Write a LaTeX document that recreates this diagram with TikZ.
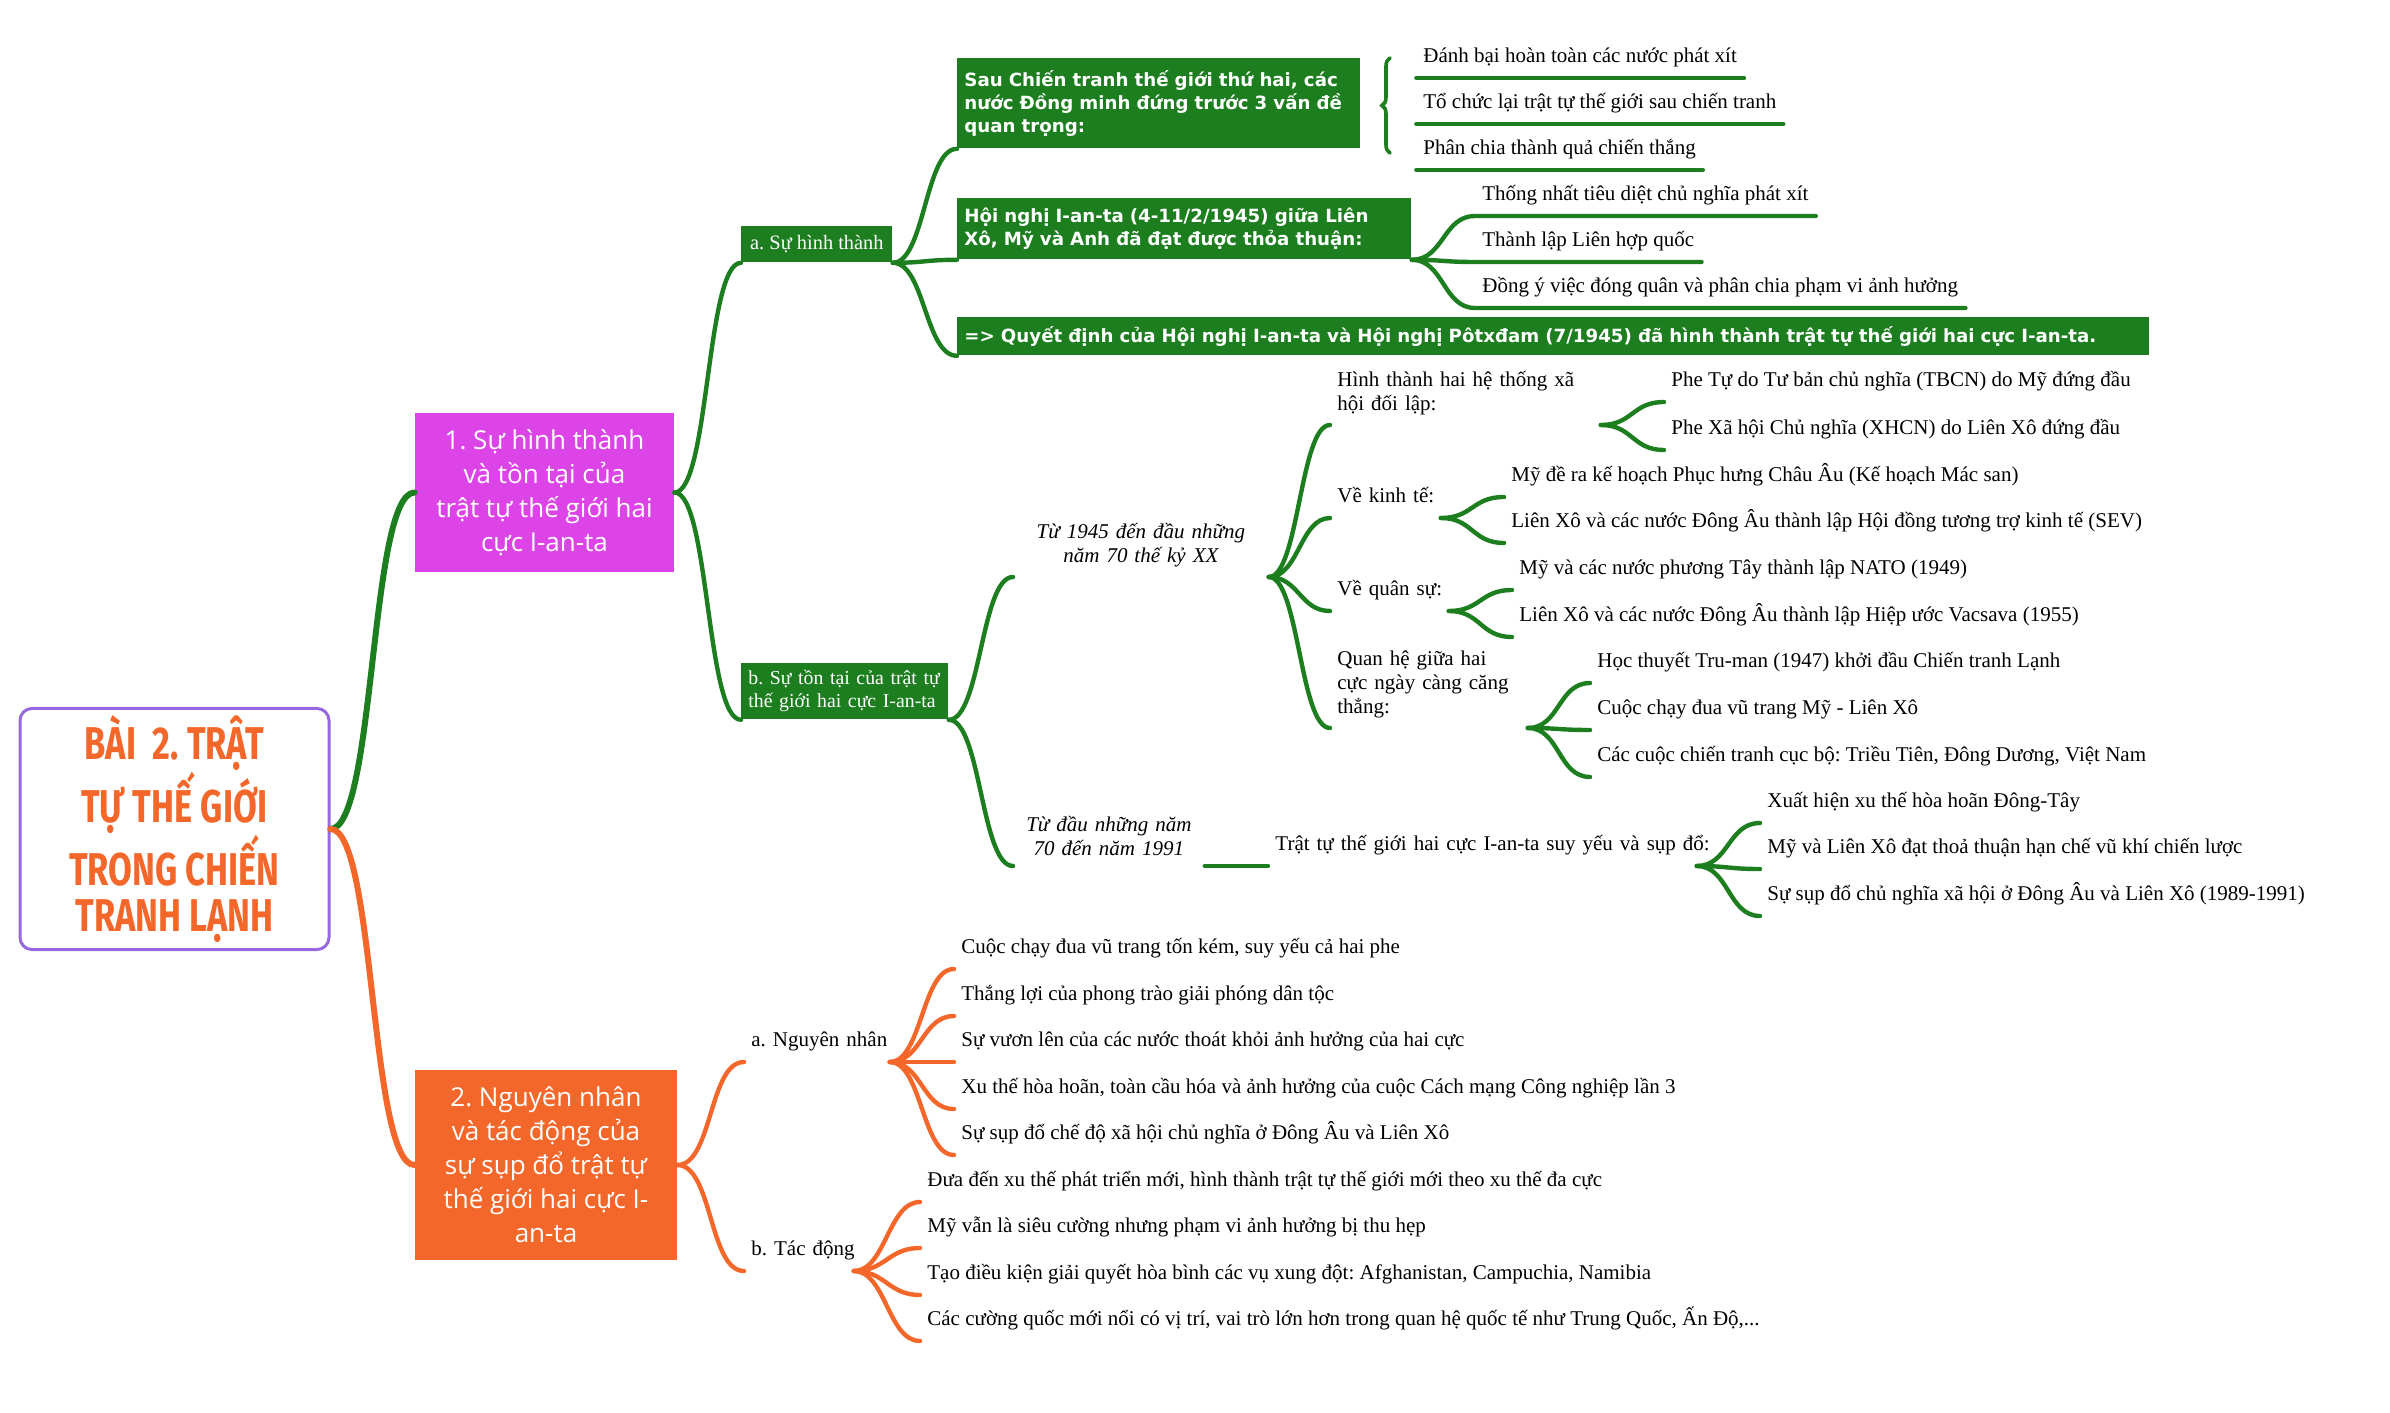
\documentclass[tikz,border=0pt]{standalone}
\usepackage{fontspec}
\setmainfont{Liberation Serif}
\newfontfamily\titlefont[FakeStretch=0.75]{Fira Sans}
\newfontfamily\capfont{Open Sans}
\newfontfamily\notefont{DejaVu Sans}
\usetikzlibrary{decorations.pathreplacing}
\definecolor{mmgreen}{HTML}{1C7E1E}
\definecolor{mmpink}{HTML}{DC44E8}
\definecolor{mmorange}{HTML}{F4672A}
\definecolor{mmpurple}{HTML}{9868E0}
\tikzset{
  arm/.style={to path={.. controls +(#1,0) and +(-#1,0) .. (\tikztotarget)}},
  arm/.default=32,
  trunk/.style={line width=3pt,line cap=round},
  twig/.style={line width=2.2pt,line cap=round},
  uline/.style={line width=1.8pt,line cap=round},
  rootbox/.style={draw=mmpurple,line width=1.5pt,rounded corners=6pt,fill=white,
    minimum width=154.5pt,minimum height=110pt,align=center,text=mmorange,
    font=\titlefont\bfseries\fontsize{23}{23}\selectfont},
  bigbox/.style={fill=#1,text=white,align=center,inner sep=2pt,
    font=\capfont\fontsize{13}{17}\selectfont},
  subbox/.style={fill=mmgreen,text=white,anchor=north west,inner xsep=3.5pt,
    inner ysep=1pt,font=\fontsize{10.2}{11.5}\selectfont},
  notebox/.style={fill=mmgreen,text=white,anchor=north west,align=left,
    inner xsep=3.5pt,inner ysep=1pt,font=\notefont\bfseries\fontsize{9.1}{11.5}\selectfont},
  topic/.style={anchor=south west,inner xsep=3.5pt,inner ysep=5.5pt,text depth=2pt,
    align=left,font=\fontsize{10.5}{12}\selectfont},
  blocktopic/.style={anchor=south west,inner xsep=3.5pt,inner ysep=5pt,
    align=left,font=\fontsize{10.5}{12}\selectfont},
  eratopic/.style={blocktopic,align=center,font=\itshape\fontsize{10.5}{12}\selectfont},
  leaf/.style={anchor=south west,inner xsep=3.5pt,inner ysep=5.5pt,text depth=2pt,
    font=\fontsize{10.5}{12}\selectfont}
}
\begin{document}
\frenchspacing
\begin{tikzpicture}[x=0.5pt,y=-0.5pt]
\useasboundingbox (0,0) rectangle (2390,1413);

% root and the two sections
\node[rootbox] (root) at (174.5,829) {BÀI\ \ 2. TRẬT\\TỰ THẾ GIỚI\\TRONG CHIẾN\\TRANH LẠNH};
\node[bigbox=mmpink,minimum width=129.5pt,minimum height=79.5pt] (sec1) at (544.5,492.5)
  {1. Sự hình thành\\và tồn tại của\\trật tự thế giới hai\\cực I-an-ta};
\node[bigbox=mmorange,minimum width=131pt,minimum height=95pt] (sec2) at (546,1165)
  {2. Nguyên nhân\\và tác động của\\sự sụp đổ trật tự\\thế giới hai cực I-\\an-ta};

\draw[trunk,mmgreen] (root.east) to[arm=45] (sec1.west);
\draw[trunk,mmorange] (root.east) to[arm=45] (sec2.west);

% a. su hinh thanh
\node[subbox,minimum width=75.5pt,minimum height=18pt,align=center] (secA) at (741,226) {a. Sự hình thành};
\node[notebox,text width=194.5pt,minimum height=45pt] (noteA) at (957,58)
  {\mbox{Sau Chiến tranh thế giới thứ hai, các}\\\mbox{nước Đồng minh đứng trước 3 vấn đề}\\quan trọng:};
\node[notebox,text width=220pt,minimum height=30.5pt] (noteB) at (957,198)
  {\mbox{Hội nghị I-an-ta (4-11/2/1945) giữa Liên}\\\mbox{Xô, Mỹ và Anh đã đạt được thỏa thuận:}};
\node[notebox,text width=589pt,minimum height=19pt] (noteC) at (957,317)
  {\mbox{=> Quyết định của Hội nghị I-an-ta và Hội nghị Pôtxđam (7/1945) đã hình thành trật tự thế giới hai cực I-an-ta.}};

\draw[twig,mmgreen] (sec1.east) to[arm=35] (secA.south west);
\draw[twig,mmgreen] (secA.south east) to[arm] (noteA.south west);
\draw[twig,mmgreen] (secA.south east) to[arm] (noteB.south west);
\draw[twig,mmgreen] (secA.south east) to[arm] (noteC.south west);

\node[leaf] (la1) at (1416,78) {Đánh bại hoàn toàn các nước phát xít};
\node[leaf] (la2) at (1416,124) {Tổ chức lại trật tự thế giới sau chiến tranh};
\node[leaf] (la3) at (1416,170) {Phân chia thành quả chiến thắng};
\draw[uline,mmgreen] (la1.south west) -- (la1.south east);
\draw[uline,mmgreen] (la2.south west) -- (la2.south east);
\draw[uline,mmgreen] (la3.south west) -- (la3.south east);
\draw[uline,mmgreen,decorate,decoration={brace,amplitude=4pt}] (1390,153) -- (1390,58);

\node[leaf] (lb1) at (1475,216) {Thống nhất tiêu diệt chủ nghĩa phát xít};
\node[leaf] (lb2) at (1475,262) {Thành lập Liên hợp quốc};
\node[leaf] (lb3) at (1475,308) {Đồng ý việc đóng quân và phân chia phạm vi ảnh hưởng};
\draw[twig,mmgreen] (noteB.south east) to[arm] (lb1.south west) -- (lb1.south east);
\draw[twig,mmgreen] (noteB.south east) to[arm] (lb2.south west) -- (lb2.south east);
\draw[twig,mmgreen] (noteB.south east) to[arm] (lb3.south west) -- (lb3.south east);

% b. su ton tai
\node[subbox,minimum width=103.5pt,minimum height=28pt,text width=96.5pt,align=left,
  font=\fontsize{9.9}{11.5}\selectfont] (secB) at (741,663)
  {\mbox{b. Sự tồn tại của trật tự}\\\mbox{thế giới hai cực I-an-ta}};
\draw[twig,mmgreen] (sec1.east) to[arm=35] (secB.south west);

\node[eratopic,text width=120.5pt] (era1) at (1013,577) {Từ 1945 đến đầu những\\năm 70 thế kỷ XX};
\node[eratopic,text width=88.5pt] (era2) at (1013,866) {Từ đầu những năm\\70 đến năm 1991};
\node[topic,text width=207pt] (era3) at (1268,866) {\mbox{Trật tự thế giới hai cực I-an-ta suy yếu và sụp đổ:}};
\draw[twig,mmgreen] (secB.south east) to[arm] (era1.south west);
\draw[twig,mmgreen] (secB.south east) to[arm] (era2.south west);
\draw[twig,mmgreen] (era2.south east) -- (era3.south west);

\node[blocktopic,text width=128pt] (bloc) at (1330,425) {Hình thành hai hệ thống xã\\hội đối lập:};
\node[topic,text width=48pt] (econ) at (1330,518) {\mbox{Về kinh tế:}};
\node[topic,text width=52pt] (army) at (1330,611) {\mbox{Về quân sự:}};
\node[blocktopic,text width=91.5pt] (tension) at (1330,728) {Quan hệ giữa hai\\cực ngày càng căng\\thẳng:};
\draw[twig,mmgreen] (era1.south east) to[arm=30] (bloc.south west);
\draw[twig,mmgreen] (era1.south east) to[arm=30] (econ.south west);
\draw[twig,mmgreen] (era1.south east) to[arm=30] (army.south west);
\draw[twig,mmgreen] (era1.south east) to[arm=30] (tension.south west);

\node[leaf] (bl1) at (1664,402) {Phe Tự do Tư bản chủ nghĩa (TBCN) do Mỹ đứng đầu};
\node[leaf] (bl2) at (1664,450) {Phe Xã hội Chủ nghĩa (XHCN) do Liên Xô đứng đầu};
\draw[twig,mmgreen] (bloc.south east) to[arm] (bl1.south west);
\draw[twig,mmgreen] (bloc.south east) to[arm] (bl2.south west);

\node[leaf] (ec1) at (1504,497) {Mỹ đề ra kế hoạch Phục hưng Châu Âu (Kế hoạch Mác san)};
\node[leaf] (ec2) at (1504,543) {Liên Xô và các nước Đông Âu thành lập Hội đồng tương trợ kinh tế (SEV)};
\draw[twig,mmgreen] (econ.south east) to[arm] (ec1.south west);
\draw[twig,mmgreen] (econ.south east) to[arm] (ec2.south west);

\node[leaf] (ar1) at (1512,590) {Mỹ và các nước phương Tây thành lập NATO (1949)};
\node[leaf] (ar2) at (1512,637) {Liên Xô và các nước Đông Âu thành lập Hiệp ước Vacsava (1955)};
\draw[twig,mmgreen] (army.south east) to[arm] (ar1.south west);
\draw[twig,mmgreen] (army.south east) to[arm] (ar2.south west);

\node[leaf] (te1) at (1590,683) {Học thuyết Tru-man (1947) khởi đầu Chiến tranh Lạnh};
\node[leaf] (te2) at (1590,730) {Cuộc chạy đua vũ trang Mỹ - Liên Xô};
\node[leaf] (te3) at (1590,777) {Các cuộc chiến tranh cục bộ: Triều Tiên, Đông Dương, Việt Nam};
\draw[twig,mmgreen] (tension.south east) to[arm] (te1.south west);
\draw[twig,mmgreen] (tension.south east) to[arm] (te2.south west);
\draw[twig,mmgreen] (tension.south east) to[arm] (te3.south west);

\node[leaf] (fa1) at (1760,823) {Xuất hiện xu thế hòa hoãn Đông-Tây};
\node[leaf] (fa2) at (1760,869) {Mỹ và Liên Xô đạt thoả thuận hạn chế vũ khí chiến lược};
\node[leaf] (fa3) at (1760,916) {Sự sụp đổ chủ nghĩa xã hội ở Đông Âu và Liên Xô (1989-1991)};
\draw[twig,mmgreen] (era3.south east) to[arm] (fa1.south west);
\draw[twig,mmgreen] (era3.south east) to[arm] (fa2.south west);
\draw[twig,mmgreen] (era3.south east) to[arm] (fa3.south west);

% 2. nguyen nhan va tac dong
\node[topic,text width=65.5pt] (cause) at (744,1062) {\mbox{a. Nguyên nhân}};
\node[topic,text width=47.5pt] (effect) at (744,1271) {\mbox{b. Tác động}};
\draw[twig,mmorange] (sec2.east) to[arm=35] (cause.south west);
\draw[twig,mmorange] (sec2.east) to[arm=35] (effect.south west);

\node[leaf] (ca1) at (954,969) {Cuộc chạy đua vũ trang tốn kém, suy yếu cả hai phe};
\node[leaf] (ca2) at (954,1016) {Thắng lợi của phong trào giải phóng dân tộc};
\node[leaf] (ca3) at (954,1062) {Sự vươn lên của các nước thoát khỏi ảnh hưởng của hai cực};
\node[leaf] (ca4) at (954,1109) {Xu thế hòa hoãn, toàn cầu hóa và ảnh hưởng của cuộc Cách mạng Công nghiệp lần 3};
\node[leaf] (ca5) at (954,1155) {Sự sụp đổ chế độ xã hội chủ nghĩa ở Đông Âu và Liên Xô};
\draw[twig,mmorange] (cause.south east) to[arm] (ca1.south west);
\draw[twig,mmorange] (cause.south east) to[arm] (ca2.south west);
\draw[twig,mmorange] (cause.south east) to[arm] (ca3.south west);
\draw[twig,mmorange] (cause.south east) to[arm] (ca4.south west);
\draw[twig,mmorange] (cause.south east) to[arm] (ca5.south west);

\node[leaf] (ef1) at (920,1202) {Đưa đến xu thế phát triển mới, hình thành trật tự thế giới mới theo xu thế đa cực};
\node[leaf] (ef2) at (920,1248) {Mỹ vẫn là siêu cường nhưng phạm vi ảnh hưởng bị thu hẹp};
\node[leaf] (ef3) at (920,1295) {Tạo điều kiện giải quyết hòa bình các vụ xung đột: Afghanistan, Campuchia, Namibia};
\node[leaf] (ef4) at (920,1341) {Các cường quốc mới nổi có vị trí, vai trò lớn hơn trong quan hệ quốc tế như Trung Quốc, Ấn Độ,...};
\draw[twig,mmorange] (effect.south east) to[arm] (ef1.south west);
\draw[twig,mmorange] (effect.south east) to[arm] (ef2.south west);
\draw[twig,mmorange] (effect.south east) to[arm] (ef3.south west);
\draw[twig,mmorange] (effect.south east) to[arm] (ef4.south west);

\end{tikzpicture}
\end{document}
